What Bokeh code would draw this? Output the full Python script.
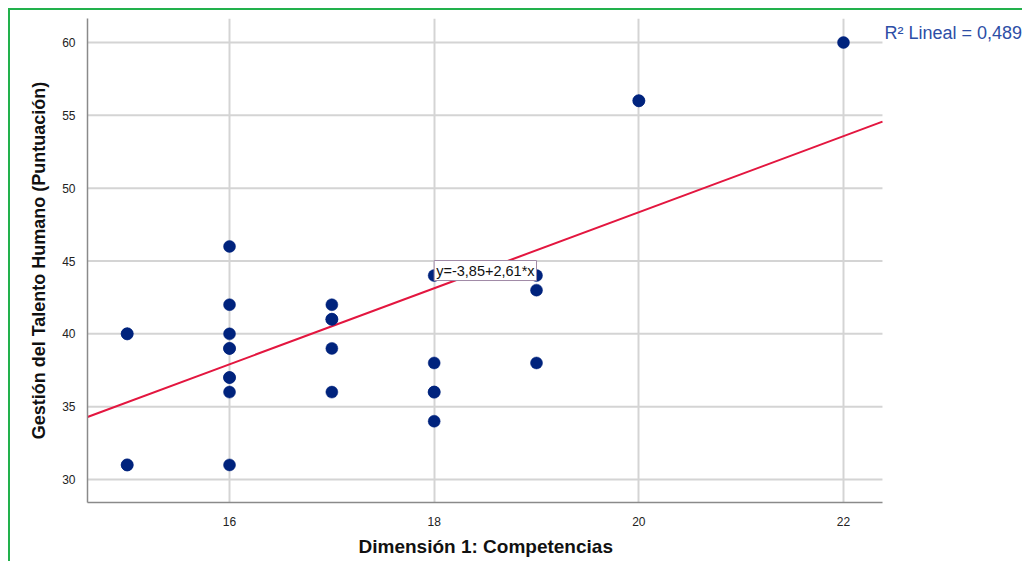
from bokeh.plotting import figure
from bokeh.models import Range1d, FixedTicker, Label, Title
from bokeh.embed import file_html
from bokeh.resources import INLINE

# Data
competencias = [15, 15, 15, 15, 16, 16, 16, 16, 16, 16, 16, 16, 16, 17, 17, 17, 17, 17, 18, 18, 18, 18, 18, 19, 19, 19, 20, 20, 22]
gestion      = [40, 40, 31, 31, 46, 42, 40, 39, 39, 37, 37, 36, 31, 42, 41, 41, 39, 36, 44, 38, 36, 36, 34, 44, 43, 38, 56, 56, 60]
intercept = -3.85
slope_val = 2.61
r2_text = "R\u00b2 Lineal = 0,489"
eq_text = "y=-3,85+2,61*x"
x_ticks = [16, 18, 20, 22]
y_ticks = [30, 35, 40, 45, 50, 55, 60]

# visible data window of the chart area
x_lo, x_hi = 14.612, 22.381
y_lo, y_hi = 28.421, 61.648

p = figure(width=1014, height=553, output_backend="svg", toolbar_location=None,
           x_range=Range1d(x_lo, 23.769), y_range=Range1d(y_lo, y_hi),
           min_border_left=77, min_border_top=8, min_border_right=0, min_border_bottom=61)
p.styles = {"margin-left": "8px", "margin-top": "8px",
            "border-left": "2px solid #22b14c", "border-top": "2px solid #22b14c"}
p.outline_line_color = None
p.background_fill_color = "white"
p.border_fill_color = "white"

for ax in (p.xaxis[0], p.yaxis[0]):
    ax.major_tick_line_color = None
    ax.minor_tick_line_color = None
    ax.axis_line_color = "#8a8a8a"
    ax.axis_line_width = 1.5
    ax.major_label_text_font = "Liberation Sans"
    ax.major_label_text_font_size = "12px"
    ax.major_label_text_color = "#222222"
    ax.axis_label_text_font = "Liberation Sans"
    ax.axis_label_text_font_style = "bold"
    ax.axis_label_text_color = "#111111"

p.xaxis.bounds = (x_lo, x_hi)
p.xaxis.ticker = FixedTicker(ticks=x_ticks)
p.yaxis.ticker = FixedTicker(ticks=y_ticks)
p.yaxis.axis_label = "Gestión del Talento Humano (Puntuación)"
p.yaxis.axis_label_text_font_size = "18px"
p.xaxis.major_label_standoff = 8
p.yaxis.major_label_standoff = 6
p.yaxis.axis_label_standoff = 10

xt = Title(text="Dimensión 1: Competencias", align="left", offset=271,
           text_font="Liberation Sans", text_font_size="19px", text_font_style="bold",
           text_color="#111111", standoff=10)
p.add_layout(xt, "below")

p.xgrid.grid_line_color = "#d4d4d4"
p.xgrid.grid_line_width = 2
p.ygrid.visible = False
hg = p.segment(x0=[x_lo] * len(y_ticks), y0=y_ticks, x1=[x_hi] * len(y_ticks), y1=y_ticks,
               line_color="#d4d4d4", line_width=2)
hg.level = "underlay"

# fitted line over the visible window
p.line([x_lo, x_hi], [intercept + slope_val * x_lo, intercept + slope_val * x_hi],
       line_color="#e3163f", line_width=2)

p.scatter(competencias, gestion, size=12, marker="circle",
          fill_color="#00237d", line_color="#00237d", line_width=0.5)

eq = Label(x=18, y=43.66, text=eq_text, text_font="Liberation Sans", text_font_size="14.5px",
           text_color="#111111", background_fill_color="white",
           border_line_color="#a08aa6", border_line_width=1, padding=2,
           anchor="bottom_left", x_offset=0, y_offset=0)
p.add_layout(eq)

r2 = Label(x=22.40, y=59.95, text=r2_text, text_font="Liberation Sans", text_font_size="18px",
           text_color="#2d4ea6", anchor="bottom_left")
p.add_layout(r2)

open("out.html", "w").write(file_html(p, INLINE))
